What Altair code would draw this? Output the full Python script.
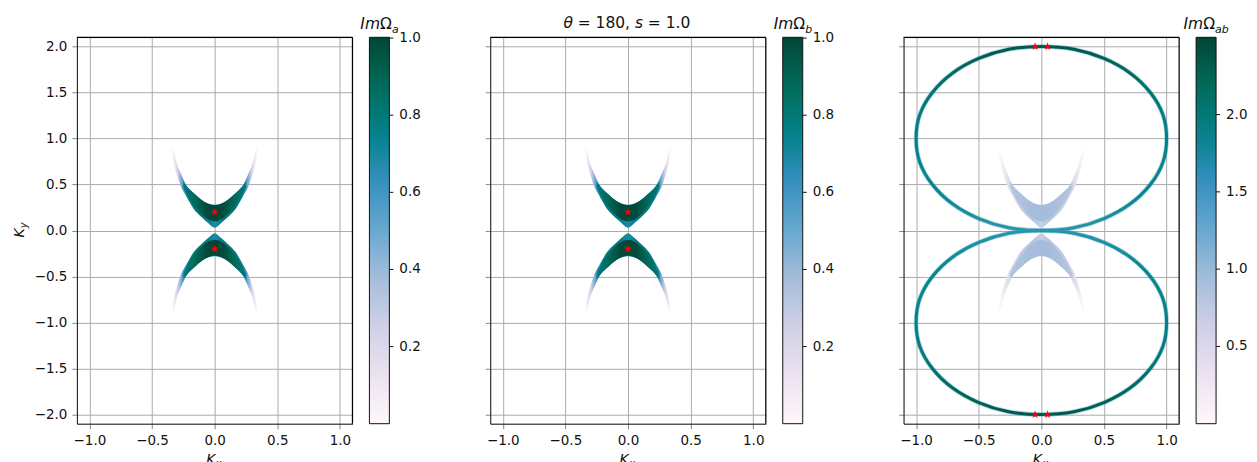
import altair as alt
import pandas as pd

FONT = "DejaVu Sans"
INK = "#111111"
LBL = 13.5

# ---------------- values ----------------
kx_ticks = [-1.0, -0.5, 0.0, 0.5, 1.0]
ky_ticks = [-2.0, -1.5, -1.0, -0.5, 0.0, 0.5, 1.0, 1.5, 2.0]

# upper crescent (lower one is its mirror image in Ky)
cres_x = [-0.345, -0.33, -0.30, -0.27, -0.23, -0.17, -0.10, -0.05, 0.00,
          0.05, 0.10, 0.17, 0.23, 0.27, 0.30, 0.33, 0.345]
cres_lo = [0.86, 0.75, 0.60, 0.48, 0.38, 0.24, 0.14, 0.08, 0.03,
           0.08, 0.14, 0.24, 0.38, 0.48, 0.60, 0.75, 0.86]
cres_hi = [0.94, 0.88, 0.72, 0.62, 0.50, 0.41, 0.33, 0.29, 0.28,
           0.29, 0.33, 0.41, 0.50, 0.62, 0.72, 0.88, 0.94]
# dark core of the crescent
core_x = [-0.25, -0.20, -0.15, -0.10, -0.05, 0.00, 0.05, 0.10, 0.15, 0.20, 0.25]
core_lo = [0.47, 0.34, 0.25, 0.17, 0.12, 0.10, 0.12, 0.17, 0.25, 0.34, 0.47]
core_hi = [0.53, 0.445, 0.385, 0.325, 0.29, 0.275, 0.29, 0.325, 0.385, 0.445, 0.53]

# upper loop of the ImΩab ring, every 15 degrees (lower loop is its mirror)
ring_x = [1.00, 0.97, 0.87, 0.71, 0.50, 0.26, 0.00, -0.26, -0.50, -0.71, -0.87, -0.97,
          -1.00, -0.97, -0.87, -0.71, -0.50, -0.26, 0.00, 0.26, 0.50, 0.71, 0.87, 0.97]
ring_y = [1.00, 1.26, 1.50, 1.71, 1.87, 1.97, 2.00, 1.97, 1.87, 1.71, 1.50, 1.26,
          1.00, 0.74, 0.50, 0.29, 0.13, 0.03, 0.00, 0.03, 0.13, 0.29, 0.50, 0.74]

stars_a_x = [0.0, 0.0]
stars_a_y = [0.2, -0.2]
stars_ab_x = [-0.05, 0.05, -0.05, 0.05]
stars_ab_y = [2.0, 2.0, -2.0, -2.0]

cbar_a_range = [0.0, 1.002]
cbar_a_ticks = [0.2, 0.4, 0.6, 0.8, 1.0]
cbar_ab_range = [0.0, 2.5]
cbar_ab_ticks = [0.5, 1.0, 1.5, 2.0]

# PuBuGn colour map
pubugn = ["#fff7fb", "#ece2f0", "#d0d1e6", "#a6bddb", "#67a9cf",
          "#3690c0", "#02818a", "#016c59", "#014636"]

# ---------------- tables ----------------
cres_df = pd.concat([
    pd.DataFrame({"x": cres_x, "lo": cres_lo, "hi": cres_hi, "part": "up"}),
    pd.DataFrame({"x": cres_x, "lo": [-v for v in cres_hi], "hi": [-v for v in cres_lo], "part": "down"}),
])
core_df = pd.concat([
    pd.DataFrame({"x": core_x, "lo": core_lo, "hi": core_hi, "part": "up"}),
    pd.DataFrame({"x": core_x, "lo": [-v for v in core_hi], "hi": [-v for v in core_lo], "part": "down"}),
])
ring_up = pd.DataFrame({"x": ring_x, "y": ring_y, "i": list(range(len(ring_x)))})
ring_dn = pd.DataFrame({"x": ring_x, "y": [-v for v in ring_y], "i": list(range(len(ring_x)))})
one = pd.DataFrame({"k": [0]})

W, H = 276, 387
STAR = "M0,-1L0.2245,-0.309L0.951,-0.309L0.363,0.118L0.588,0.809L0,0.382L-0.588,0.809L-0.363,0.118L-0.951,-0.309L-0.2245,-0.309Z"
GRID = "#ababab"

xscale = alt.Scale(domain=[-1.1, 1.1], nice=False, zero=False)
yscale = alt.Scale(domain=[-2.1, 2.1], nice=False, zero=False)
xaxis = alt.Axis(values=kx_ticks, format=".1f", title=None, labelPadding=5,
                 labelFont=FONT, labelFontSize=LBL, labelColor=INK,
                 gridColor=GRID, gridOpacity=1, domain=True, domainColor=INK)


def yaxis(labels):
    return alt.Axis(values=ky_ticks, format=".1f", title=None, labels=labels, labelPadding=5,
                    labelFont=FONT, labelFontSize=LBL, labelColor=INK,
                    gridColor=GRID, gridOpacity=1, domain=True, domainColor=INK)


def grad(half):
    stops = [alt.GradientStop(offset=o, color=c) for o, c in half]
    stops += [alt.GradientStop(offset=1 - o, color=c) for o, c in reversed(half) if o < 0.5]
    return alt.Gradient(gradient="linear", stops=stops, x1=0, x2=1, y1=0, y2=0)


def vgrad(stops, flip):
    s = [alt.GradientStop(offset=o, color=c) for o, c in stops]
    if flip:
        return alt.Gradient(gradient="linear", stops=s, x1=0, x2=0, y1=1, y2=0)
    return alt.Gradient(gradient="linear", stops=s, x1=0, x2=0, y1=0, y2=1)


def txt(s, x, y, size=15.5, italic=False, align="left", angle=0):
    return alt.Chart(one).mark_text(
        text=s, font=FONT, fontSize=size, fontStyle="italic" if italic else "normal",
        align=align, baseline="alphabetic", angle=angle, color=INK
    ).encode(x=alt.value(x), y=alt.value(y))


def frame():
    # top and right spines of the axes box
    return [
        alt.Chart(one).mark_rule(color="#000000", strokeWidth=1.2).encode(
            x=alt.value(0), x2=alt.value(W), y=alt.value(0)),
        alt.Chart(one).mark_rule(color="#000000", strokeWidth=1.2).encode(
            x=alt.value(W), y=alt.value(0), y2=alt.value(H)),
    ]


def crescents(outer_half, core_half, ylab):
    outer = alt.Chart(cres_df).mark_area(interpolate="monotone", fill=grad(outer_half)).encode(
        x=alt.X("x:Q", scale=xscale, axis=xaxis),
        y=alt.Y("lo:Q", scale=yscale, axis=yaxis(ylab)),
        y2="hi:Q",
        detail="part:N",
    )
    core = alt.Chart(core_df).mark_area(interpolate="monotone", fill=grad(core_half)).encode(
        x=alt.X("x:Q", scale=xscale, axis=xaxis),
        y=alt.Y("lo:Q", scale=yscale, axis=yaxis(ylab)),
        y2="hi:Q",
        detail="part:N",
    )
    return [outer, core]


def stars(xs, ys, ylab):
    df = pd.DataFrame({"x": xs, "y": ys})
    return alt.Chart(df).mark_point(shape=STAR, filled=True, size=75, color="#ff0000", opacity=1).encode(
        x=alt.X("x:Q", scale=xscale, axis=xaxis),
        y=alt.Y("y:Q", scale=yscale, axis=yaxis(ylab)),
    )


def legend_layer(rng, ticks):
    return alt.Chart(pd.DataFrame({"v": rng})).mark_circle(size=0, opacity=1).encode(
        x=alt.value(0), y=alt.value(0),
        color=alt.Color("v:Q", scale=alt.Scale(range=pubugn, interpolate="rgb", domain=rng, nice=False, zero=False),
                        legend=alt.Legend(title=None, values=ticks, format=".1f", orient="right", offset=17,
                                          padding=0, gradientLength=H, gradientThickness=20,
                                          gradientStrokeColor=INK, gradientStrokeWidth=1, gradientOpacity=1,
                                          labelOffset=10, labelFont=FONT, labelFontSize=LBL, labelColor=INK,
                                          labelOverlap=False, labelBaseline="middle")),
    )


def cbar_ticks(rng, ticks):
    return alt.Chart(pd.DataFrame({"v": ticks})).mark_rule(color=INK, strokeWidth=1).encode(
        x=alt.value(W + 17 + 20), x2=alt.value(W + 17 + 24),
        y=alt.Y("v:Q", scale=alt.Scale(domain=rng, nice=False, zero=False), axis=None),
    )


def cbar_title(sub, x0):
    return [
        txt("Im", x0, -8, italic=True),
        txt("Ω", x0 + 19.7, -8),
        txt(sub, x0 + 31.6, -4.5, size=11, italic=True),
    ]


outer_a = [(0.0, "#ffffff"), (0.04, "#ece5f1"), (0.075, "#cdd2e7"), (0.105, "#92b4d6"),
           (0.14, "#3e94c3"), (0.18, "#0a8391"), (0.27, "#027479"), (0.40, "#027b82"), (0.5, "#1a8ca6")]
core_a = [(0.0, "#027a80"), (0.18, "#016a5b"), (0.38, "#014a3c"), (0.5, "#01463a")]
outer_ab = [(0.0, "#ffffff"), (0.06, "#f0ebf4"), (0.14, "#dadaeb"), (0.25, "#c4cde4"),
            (0.4, "#b5c5e0"), (0.5, "#c8d0e6")]
core_ab = [(0.0, "#b5c5e0"), (0.3, "#a9bedc"), (0.5, "#a4bbdb")]
ring_stops = [(0.0, "#01574d"), (0.15, "#016b5c"), (0.35, "#027a80"), (0.5, "#02818a"),
              (0.8, "#05868f"), (1.0, "#2a93ad")]


def ring(df, flip):
    base = alt.Chart(df)
    enc = dict(
        x=alt.X("x:Q", scale=xscale, axis=xaxis),
        y=alt.Y("y:Q", scale=yscale, axis=yaxis(False)),
        order=alt.Order("i:Q"),
    )
    under = base.mark_line(interpolate="cardinal-closed", strokeWidth=4.6, stroke="#3a9db2", opacity=0.45).encode(**enc)
    top = base.mark_line(interpolate="cardinal-closed", strokeWidth=3.0, stroke=vgrad(ring_stops, flip)).encode(**enc)
    return [under, top]


def kx():
    return [txt("K", 129.5, 427.5, size=14, italic=True),
            txt("x", 139.2, 430.5, size=9.8, italic=True)]


# ---------------- panels ----------------
main1 = alt.layer(
    legend_layer(cbar_a_range, cbar_a_ticks),
    *crescents(outer_a, core_a, True),
    stars(stars_a_x, stars_a_y, True),
    *frame(),
    *cbar_title("a", 283.9),
    *kx(),
    txt("K", -53, 200.5, size=14, italic=True, angle=270),
    txt("y", -50, 191.3, size=9.8, italic=True, angle=270),
    alt.Chart(one).mark_rule(opacity=0, strokeWidth=0).encode(
        x=alt.value(-76), x2=alt.value(0), y=alt.value(-36), y2=alt.value(426)),
)
p1 = alt.layer(main1, cbar_ticks(cbar_a_range, cbar_a_ticks)).resolve_scale(y="independent").properties(width=W, height=H)

main2 = alt.layer(
    legend_layer(cbar_a_range, cbar_a_ticks),
    *crescents(outer_a, core_a, False),
    stars(stars_a_x, stars_a_y, False),
    *frame(),
    *cbar_title("b", 283.9),
    txt("θ", 73.3, -9.3, italic=True),
    txt("= 180,", 87.6, -9.3),
    txt("s", 144.9, -9.3, italic=True),
    txt("= 1.0", 157.9, -9.3),
    *kx(),
)
p2 = alt.layer(main2, cbar_ticks(cbar_a_range, cbar_a_ticks)).resolve_scale(y="independent").properties(width=W, height=H)

main3 = alt.layer(
    legend_layer(cbar_ab_range, cbar_ab_ticks),
    *crescents(outer_ab, core_ab, False),
    *ring(ring_up, False),
    *ring(ring_dn, True),
    stars(stars_ab_x, stars_ab_y, False),
    *frame(),
    *cbar_title("ab", 280.4),
    *kx(),
    alt.Chart(one).mark_rule(opacity=0, strokeWidth=0).encode(
        x=alt.value(W), x2=alt.value(353), y=alt.value(-36), y2=alt.value(426)),
)
p3 = alt.layer(main3, cbar_ticks(cbar_ab_range, cbar_ab_ticks)).resolve_scale(y="independent").properties(width=W, height=H)

chart = alt.hconcat(p1, p2, p3, spacing=138, bounds="flush").resolve_scale(
    color="independent"
).properties(
    padding=0
).configure_view(
    stroke="#000000", strokeWidth=1.2, strokeOpacity=1
).configure_axis(
    labelFont=FONT, labelFontSize=LBL, labelColor=INK, tickColor=INK, tickSize=4, tickWidth=1,
    gridColor=GRID, gridWidth=1, gridOpacity=1, zindex=1, labelFlush=False, labelOverlap=False,
    grid=True, domainWidth=1.2,
).configure(font=FONT)

chart.save("out.html", embed_options={"renderer": "svg", "actions": False})
